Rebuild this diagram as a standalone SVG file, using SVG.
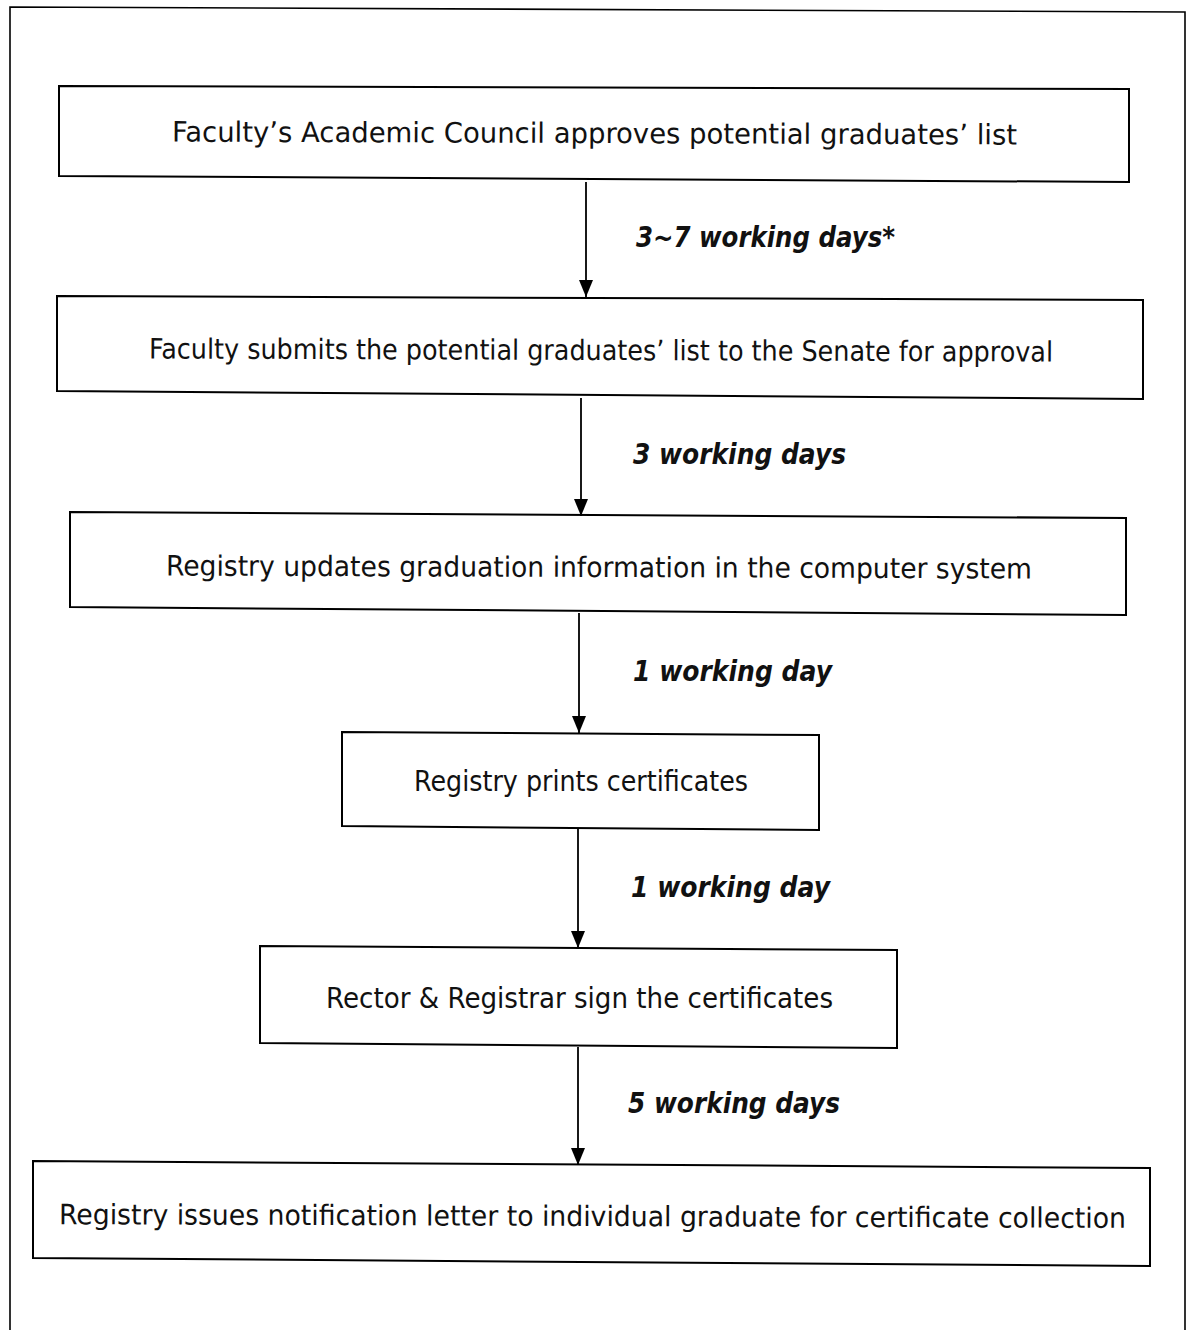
<svg xmlns="http://www.w3.org/2000/svg" width="1189" height="1330" viewBox="0 0 1189 1330">
<defs>
<marker id="ah" markerWidth="17" markerHeight="14" refX="17" refY="7" orient="auto" markerUnits="userSpaceOnUse" viewBox="0 0 17 14">
<path d="M0,0 L17,7 L0,14 Z" fill="#000"/>
</marker>
</defs>
<style>
.frame{fill:none;stroke:#000;stroke-width:1.6}
.box{fill:#fff;stroke:#000;stroke-width:2}
.t{font-family:"DejaVu Sans","Liberation Sans",sans-serif;font-size:28px;fill:#111;text-anchor:start}
.lbl{font-family:"DejaVu Sans","Liberation Sans",sans-serif;font-size:28px;font-weight:bold;font-style:italic;fill:#111}
.conn{stroke:#000;stroke-width:1.8;fill:none}
</style>
<rect width="1189" height="1330" fill="#fff"/>
<path class="frame" d="M10,1330 L10,7 L1185,12 L1185,1330"/>
<g id="n1">
<polygon class="box" points="59,86 1129,89 1129,182 59,176"/>
<text class="t" x="172" y="143" textLength="845" lengthAdjust="spacingAndGlyphs" transform="rotate(0.2 595 135)">Faculty’s Academic Council approves potential graduates’ list</text>
</g>
<g id="n2">
<polygon class="box" points="57,296 1143,300 1143,399 57,391"/>
<text class="t" x="149" y="360" textLength="904" lengthAdjust="spacingAndGlyphs" transform="rotate(0.2 600 350)">Faculty submits the potential graduates’ list to the Senate for approval</text>
</g>
<g id="n3">
<polygon class="box" points="70,512 1126,518 1126,615 70,607"/>
<text class="t" x="166" y="577" textLength="866" lengthAdjust="spacingAndGlyphs" transform="rotate(0.2 600 567)">Registry updates graduation information in the computer system</text>
</g>
<g id="n4">
<polygon class="box" points="342,732 819,735 819,830 342,826"/>
<text class="t" x="414" y="791" textLength="334" lengthAdjust="spacingAndGlyphs">Registry prints certificates</text>
</g>
<g id="n5">
<polygon class="box" points="260,946 897,950 897,1048 260,1043"/>
<text class="t" x="326" y="1008" textLength="507" lengthAdjust="spacingAndGlyphs">Rector &amp; Registrar sign the certificates</text>
</g>
<g id="n6">
<polygon class="box" points="33,1161 1150,1168 1150,1266 33,1258"/>
<text class="t" x="59" y="1226" textLength="1067" lengthAdjust="spacingAndGlyphs" transform="rotate(0.2 593 1216)">Registry issues notification letter to individual graduate for certificate collection</text>
</g>
<g id="connectors">
<line class="conn" x1="586" y1="182" x2="586" y2="297" marker-end="url(#ah)"/>
<line class="conn" x1="581" y1="398" x2="581" y2="516" marker-end="url(#ah)"/>
<line class="conn" x1="579" y1="613" x2="579" y2="733" marker-end="url(#ah)"/>
<line class="conn" x1="578" y1="829" x2="578" y2="948" marker-end="url(#ah)"/>
<line class="conn" x1="578" y1="1047" x2="578" y2="1165" marker-end="url(#ah)"/>
<text class="lbl" x="636" y="247" textLength="259" lengthAdjust="spacingAndGlyphs">3~7 working days*</text>
<text class="lbl" x="633" y="464" textLength="213" lengthAdjust="spacingAndGlyphs">3 working days</text>
<text class="lbl" x="633" y="681" textLength="199" lengthAdjust="spacingAndGlyphs">1 working day</text>
<text class="lbl" x="631" y="897" textLength="199" lengthAdjust="spacingAndGlyphs">1 working day</text>
<text class="lbl" x="628" y="1113" textLength="212" lengthAdjust="spacingAndGlyphs">5 working days</text>
</g>
</svg>
